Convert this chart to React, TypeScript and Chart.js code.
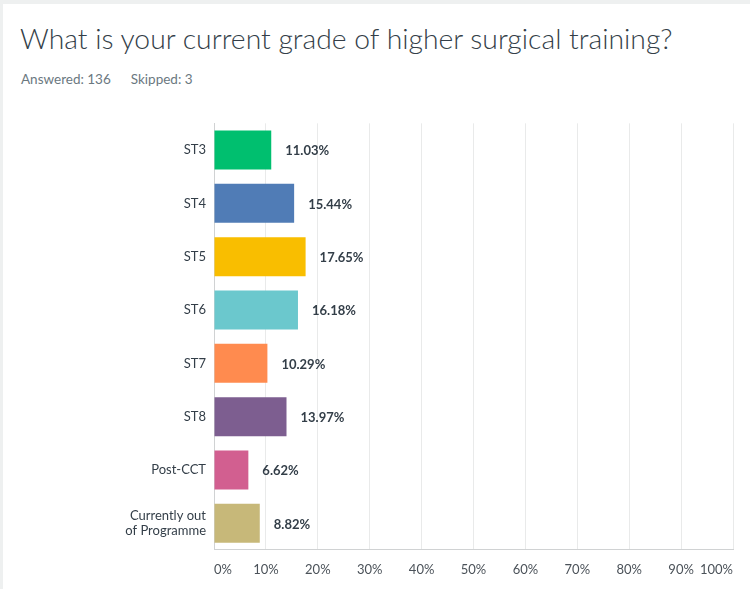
import React, { useEffect, useRef } from "react";
import { Chart, registerables } from "chart.js";

Chart.register(...registerables);

const categories: (string | string[])[] = [
  "ST3",
  "ST4",
  "ST5",
  "ST6",
  "ST7",
  "ST8",
  "Post-CCT",
  ["Currently out", "of Programme"],
];
const values = [11.03, 15.44, 17.65, 16.18, 10.29, 13.97, 6.62, 8.82];
const barColors = [
  "#00BF6F",
  "#507CB6",
  "#F9BE00",
  "#6BC8CD",
  "#FF8B4F",
  "#7D5E90",
  "#D25F90",
  "#C7B879",
];
const xTicks = [0, 10, 20, 30, 40, 50, 60, 70, 80, 90, 100];
const title = "What is your current grade of higher surgical training?";
const subtitleAnswered = "Answered: 136";
const subtitleSkipped = "Skipped: 3";

const FONT = "Lato, 'Open Sans', sans-serif";

const valueLabels = {
  id: "valueLabels",
  afterDatasetsDraw(chart: any) {
    const ctx = chart.ctx;
    const meta = chart.getDatasetMeta(0);
    ctx.save();
    ctx.font = `bold 13px ${FONT}`;
    ctx.fillStyle = "#333e48";
    ctx.textAlign = "left";
    ctx.textBaseline = "middle";
    meta.data.forEach((el: any, i: number) => {
      ctx.fillText(values[i].toFixed(2) + "%", el.x + 14, el.y + 1);
    });
    ctx.restore();
  },
};

export default function App() {
  const ref = useRef<HTMLCanvasElement>(null);
  useEffect(() => {
    document.body.style.margin = "0";
    const chart = new Chart(ref.current!, {
      type: "bar",
      data: {
        labels: categories,
        datasets: [
          {
            data: values,
            backgroundColor: barColors,
            borderWidth: 0,
            categoryPercentage: 1,
            barPercentage: 0.73,
          },
        ],
      },
      options: {
        indexAxis: "y",
        animation: false,
        responsive: false,
        maintainAspectRatio: false,
        layout: { padding: { top: 14, right: 17, bottom: 0, left: 0 } },
        plugins: { legend: { display: false }, tooltip: { enabled: false } },
        scales: {
          x: {
            min: 0,
            max: 100,
            afterBuildTicks(scale: any) {
              scale.ticks = xTicks.map((v) => ({ value: v }));
            },
            afterFit(scale: any) {
              scale.height = 39;
            },
            grid: {
              color: "#e9eaea",
              drawTicks: false,
              lineWidth: 1,
            },
            border: { color: "#d0d2d3", width: 1 },
            ticks: {
              align: "inner",
              padding: 12,
              color: "#4b5259",
              font: { family: FONT, size: 13 },
              callback: (v: any) => v + "%",
              maxRotation: 0,
              autoSkip: false,
            },
          },
          y: {
            afterFit(scale: any) {
              scale.width = 214;
            },
            grid: { display: false, drawTicks: false },
            border: { color: "#d0d2d3", width: 1 },
            ticks: {
              padding: 8,
              color: "#333e48",
              font: { family: FONT, size: 13, lineHeight: 1.18 },
            },
          },
        },
      },
      plugins: [valueLabels],
    });
    return () => chart.destroy();
  }, []);

  return (
    <div
      style={{
        position: "relative",
        width: 750,
        height: 589,
        background: "#eef0f0",
        overflow: "hidden",
      }}
    >
      <div
        style={{
          position: "absolute",
          left: 3,
          top: 4,
          width: 747,
          height: 585,
          background: "#ffffff",
        }}
      />
      <div
        style={{
          position: "absolute",
          left: 20,
          top: 20,
          fontFamily: FONT,
          fontWeight: 300,
          fontSize: 28.3,
          color: "#333e48",
          whiteSpace: "nowrap",
          lineHeight: "36px",
        }}
      >
        {title}
      </div>
      <div
        style={{
          position: "absolute",
          left: 21,
          top: 70,
          fontFamily: FONT,
          fontSize: 13.5,
          color: "#6b787f",
          whiteSpace: "nowrap",
          lineHeight: "18px",
        }}
      >
        <span>{subtitleAnswered}</span>
        <span style={{ marginLeft: 20 }}>{subtitleSkipped}</span>
      </div>
      <canvas
        ref={ref}
        width={750}
        height={489}
        style={{ position: "absolute", left: 0, top: 100, width: 750, height: 489 }}
      />
    </div>
  );
}
